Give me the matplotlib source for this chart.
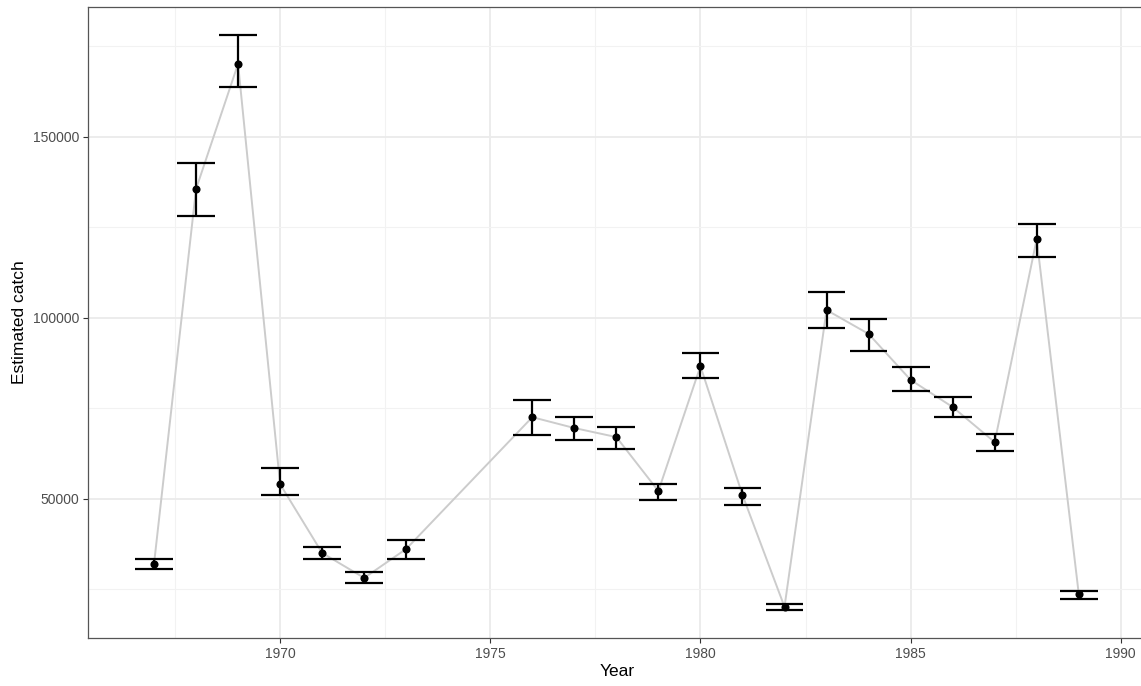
import numpy as np
import matplotlib
matplotlib.use('Agg')
import matplotlib.pyplot as plt
from matplotlib.ticker import MultipleLocator

plt.rcParams['font.family'] = ['Liberation Sans', 'DejaVu Sans']

# Estimated catch per year with lower / upper bounds
years = [1967, 1968, 1969, 1970, 1971, 1972, 1973, 1976, 1977, 1978, 1979,
         1980, 1981, 1982, 1983, 1984, 1985, 1986, 1987, 1988, 1989]
catch = [32000, 135600, 170200, 54100, 35100, 28200, 36200, 72600, 69600,
         67100, 52200, 86700, 51100, 20200, 102200, 95600, 82900, 75400,
         65700, 121800, 23800]
lower = [30600, 128200, 163800, 51100, 33400, 26800, 33400, 67700, 66300,
         63800, 49700, 83400, 48300, 19300, 97200, 90900, 79800, 72600,
         63300, 116900, 22400]
upper = [33400, 142800, 178200, 58600, 36700, 29800, 38700, 77300, 72600,
         69900, 54100, 90300, 53000, 21000, 107200, 99700, 86500, 78200,
         68000, 126000, 24600]

x = np.array(years)
cap = 0.45

fig = plt.figure(figsize=(11.41, 6.86), dpi=100)
ax = fig.add_axes([88 / 1141, 1 - 638 / 686, (1146 - 88) / 1141, (638 - 7) / 686])

# trend line
ax.plot(x, catch, color='#cccccc', lw=1.4, zorder=2)
# error bars
ax.vlines(x, lower, upper, color='black', lw=1.6, zorder=3)
ax.hlines(lower, x - cap, x + cap, color='black', lw=1.6, zorder=3)
ax.hlines(upper, x - cap, x + cap, color='black', lw=1.6, zorder=3)
# points
ax.scatter(x, catch, s=34, color='black', zorder=4, linewidths=0)

ax.set_xlim(1965.43, 1990.6)
ax.set_ylim(11600, 185900)

ax.xaxis.set_major_locator(MultipleLocator(5))
ax.xaxis.set_minor_locator(MultipleLocator(2.5))
ax.yaxis.set_major_locator(MultipleLocator(50000))
ax.yaxis.set_minor_locator(MultipleLocator(25000))
ax.grid(which='major', color='#ebebeb', lw=1.3, zorder=0)
ax.grid(which='minor', color='#f2f2f2', lw=0.8, zorder=0)
ax.set_axisbelow(True)

ax.tick_params(which='major', length=3.5, width=0.8, color='#333333',
               labelcolor='#4d4d4d', labelsize=10, pad=3)
ax.tick_params(which='minor', length=0)
for s in ax.spines.values():
    s.set_color('#555555')
    s.set_linewidth(0.9)

ax.set_xlabel('Year', fontsize=12.5, color='black', labelpad=2)
ax.set_ylabel('Estimated catch', fontsize=12.5, color='black', labelpad=4)

fig.savefig('out.png', dpi=100)
